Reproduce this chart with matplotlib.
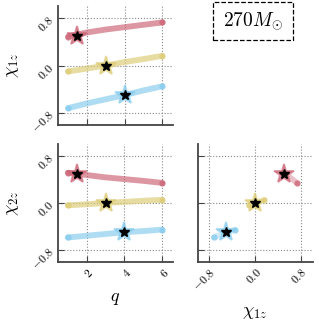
import matplotlib
matplotlib.use('Agg')
import matplotlib.pyplot as plt
from matplotlib.patches import Rectangle

plt.rcParams['mathtext.fontset'] = 'cm'
plt.rcParams['font.family'] = 'serif'
plt.rcParams['font.serif'] = ['cmr10', 'DejaVu Serif']

# recovered tracks
q_vals = [1, 2, 3, 4, 5, 6]
red_chi1 = [0.49, 0.56, 0.61, 0.65, 0.69, 0.73]
red_chi2 = [0.52, 0.48, 0.44, 0.41, 0.38, 0.345]
yel_chi1 = [-0.10, -0.05, 0.0, 0.06, 0.11, 0.165]
yel_chi2 = [-0.04, -0.02, 0.0, 0.02, 0.04, 0.055]
blu_chi1 = [-0.72, -0.64, -0.57, -0.50, -0.42, -0.35]
blu_chi2 = [-0.59, -0.56, -0.53, -0.50, -0.48, -0.455]

# injected values (stars)
true_q = [1.5, 3.0, 4.0]
true_chi1 = [0.5, 0.0, -0.5]
true_chi2 = [0.5, 0.0, -0.5]

colors = ['#CC6677', '#DDCC77', '#88CCEE']
chi1_lst = [red_chi1, yel_chi1, blu_chi1]
chi2_lst = [red_chi2, yel_chi2, blu_chi2]

q_ticks = [2, 4, 6]
q_labels = [r'$2$', r'$4$', r'$6$']
chi_ticks = [-0.8, 0.0, 0.8]
chi_labels = [r'$-0.8$', r'$0.0$', r'$0.8$']
mass_label = r'$270M_{\odot}$'

TICK_SIZE = 8.5
LABEL_SIZE = 13

fig = plt.figure(figsize=(3.19, 3.21), dpi=100)
ax_tl = fig.add_axes([0.1818, 0.6097, 0.3596, 0.3720])
ax_bl = fig.add_axes([0.1809, 0.1838, 0.3605, 0.3673])
ax_br = fig.add_axes([0.6198, 0.1838, 0.3605, 0.3673])


def track(ax, x, y, c, alpha=0.68):
    ax.plot(x, y, '-', color=c, lw=4.2, alpha=alpha, solid_capstyle='round', zorder=2)
    ends = [0, len(x) - 1]
    ax.plot([x[i] for i in ends], [y[i] for i in ends], 'o', color=c, ms=4.5,
            alpha=0.8, mew=0, zorder=2)


def star(ax, x, y, c):
    ax.plot(x, y, '*', ms=14.5, color=c, alpha=0.7, mec=c, mew=1.3, zorder=4)
    ax.plot(x, y, '*', ms=7, color='black', zorder=5)


for idx, c in enumerate(colors):
    track(ax_tl, q_vals, chi1_lst[idx], c)
    star(ax_tl, true_q[idx], true_chi1[idx], c)
    track(ax_bl, q_vals, chi2_lst[idx], c)
    star(ax_bl, true_q[idx], true_chi2[idx], c)
    track(ax_br, chi1_lst[idx], chi2_lst[idx], c, alpha=0.4)
    star(ax_br, true_chi1[idx], true_chi2[idx], c)

for ax in [ax_tl, ax_bl, ax_br]:
    for side in ['top', 'right']:
        ax.spines[side].set_visible(False)
    for side in ['left', 'bottom']:
        ax.spines[side].set_color('#444444')
        ax.spines[side].set_linewidth(1.3)
    ax.grid(True, ls=':', color='#888888', lw=0.8)
    ax.set_axisbelow(True)
    ax.tick_params(direction='in', length=4, width=0.8, color='#444444',
                   labelsize=TICK_SIZE)
    ax.tick_params(axis='y', pad=4.5)
    ax.tick_params(axis='x', pad=3)
    ax.set_ylim(-1.01, 1.01)
    ax.set_yticks(chi_ticks)

for ax in [ax_tl, ax_bl]:
    ax.set_xlim(0.47, 6.55)
    ax.set_xticks(q_ticks)

ax_br.set_xlim(-1.0, 1.01)
ax_br.set_xticks(chi_ticks)

ax_tl.set_xticklabels([])
ax_br.set_yticklabels([])
ax_tl.set_yticklabels(chi_labels, rotation=45, ha='right', va='center', rotation_mode='anchor')
ax_bl.set_yticklabels(chi_labels, rotation=45, ha='right', va='center', rotation_mode='anchor')
ax_bl.set_xticklabels(q_labels, rotation=45, ha='right', va='top', rotation_mode='anchor')
ax_br.set_xticklabels(chi_labels, rotation=45, ha='right', va='top', rotation_mode='anchor')

ax_tl.set_ylabel(r'$\chi_{1z}$', fontsize=LABEL_SIZE, labelpad=6)
ax_bl.set_ylabel(r'$\chi_{2z}$', fontsize=LABEL_SIZE, labelpad=6)
ax_bl.set_xlabel(r'$q$', fontsize=LABEL_SIZE, labelpad=8)
ax_br.set_xlabel(r'$\chi_{1z}$', fontsize=LABEL_SIZE, labelpad=9)

# mass box
fig.patches.append(Rectangle((212.5 / 319, 1 - 40 / 321), 80 / 319, 38.5 / 321,
                             transform=fig.transFigure, fill=False, ec='black',
                             ls='--', lw=0.9))
fig.text(252.5 / 319, 1 - 21 / 321, mass_label, fontsize=14, ha='center', va='center')

plt.savefig('out.png', dpi=100)
plt.close()
